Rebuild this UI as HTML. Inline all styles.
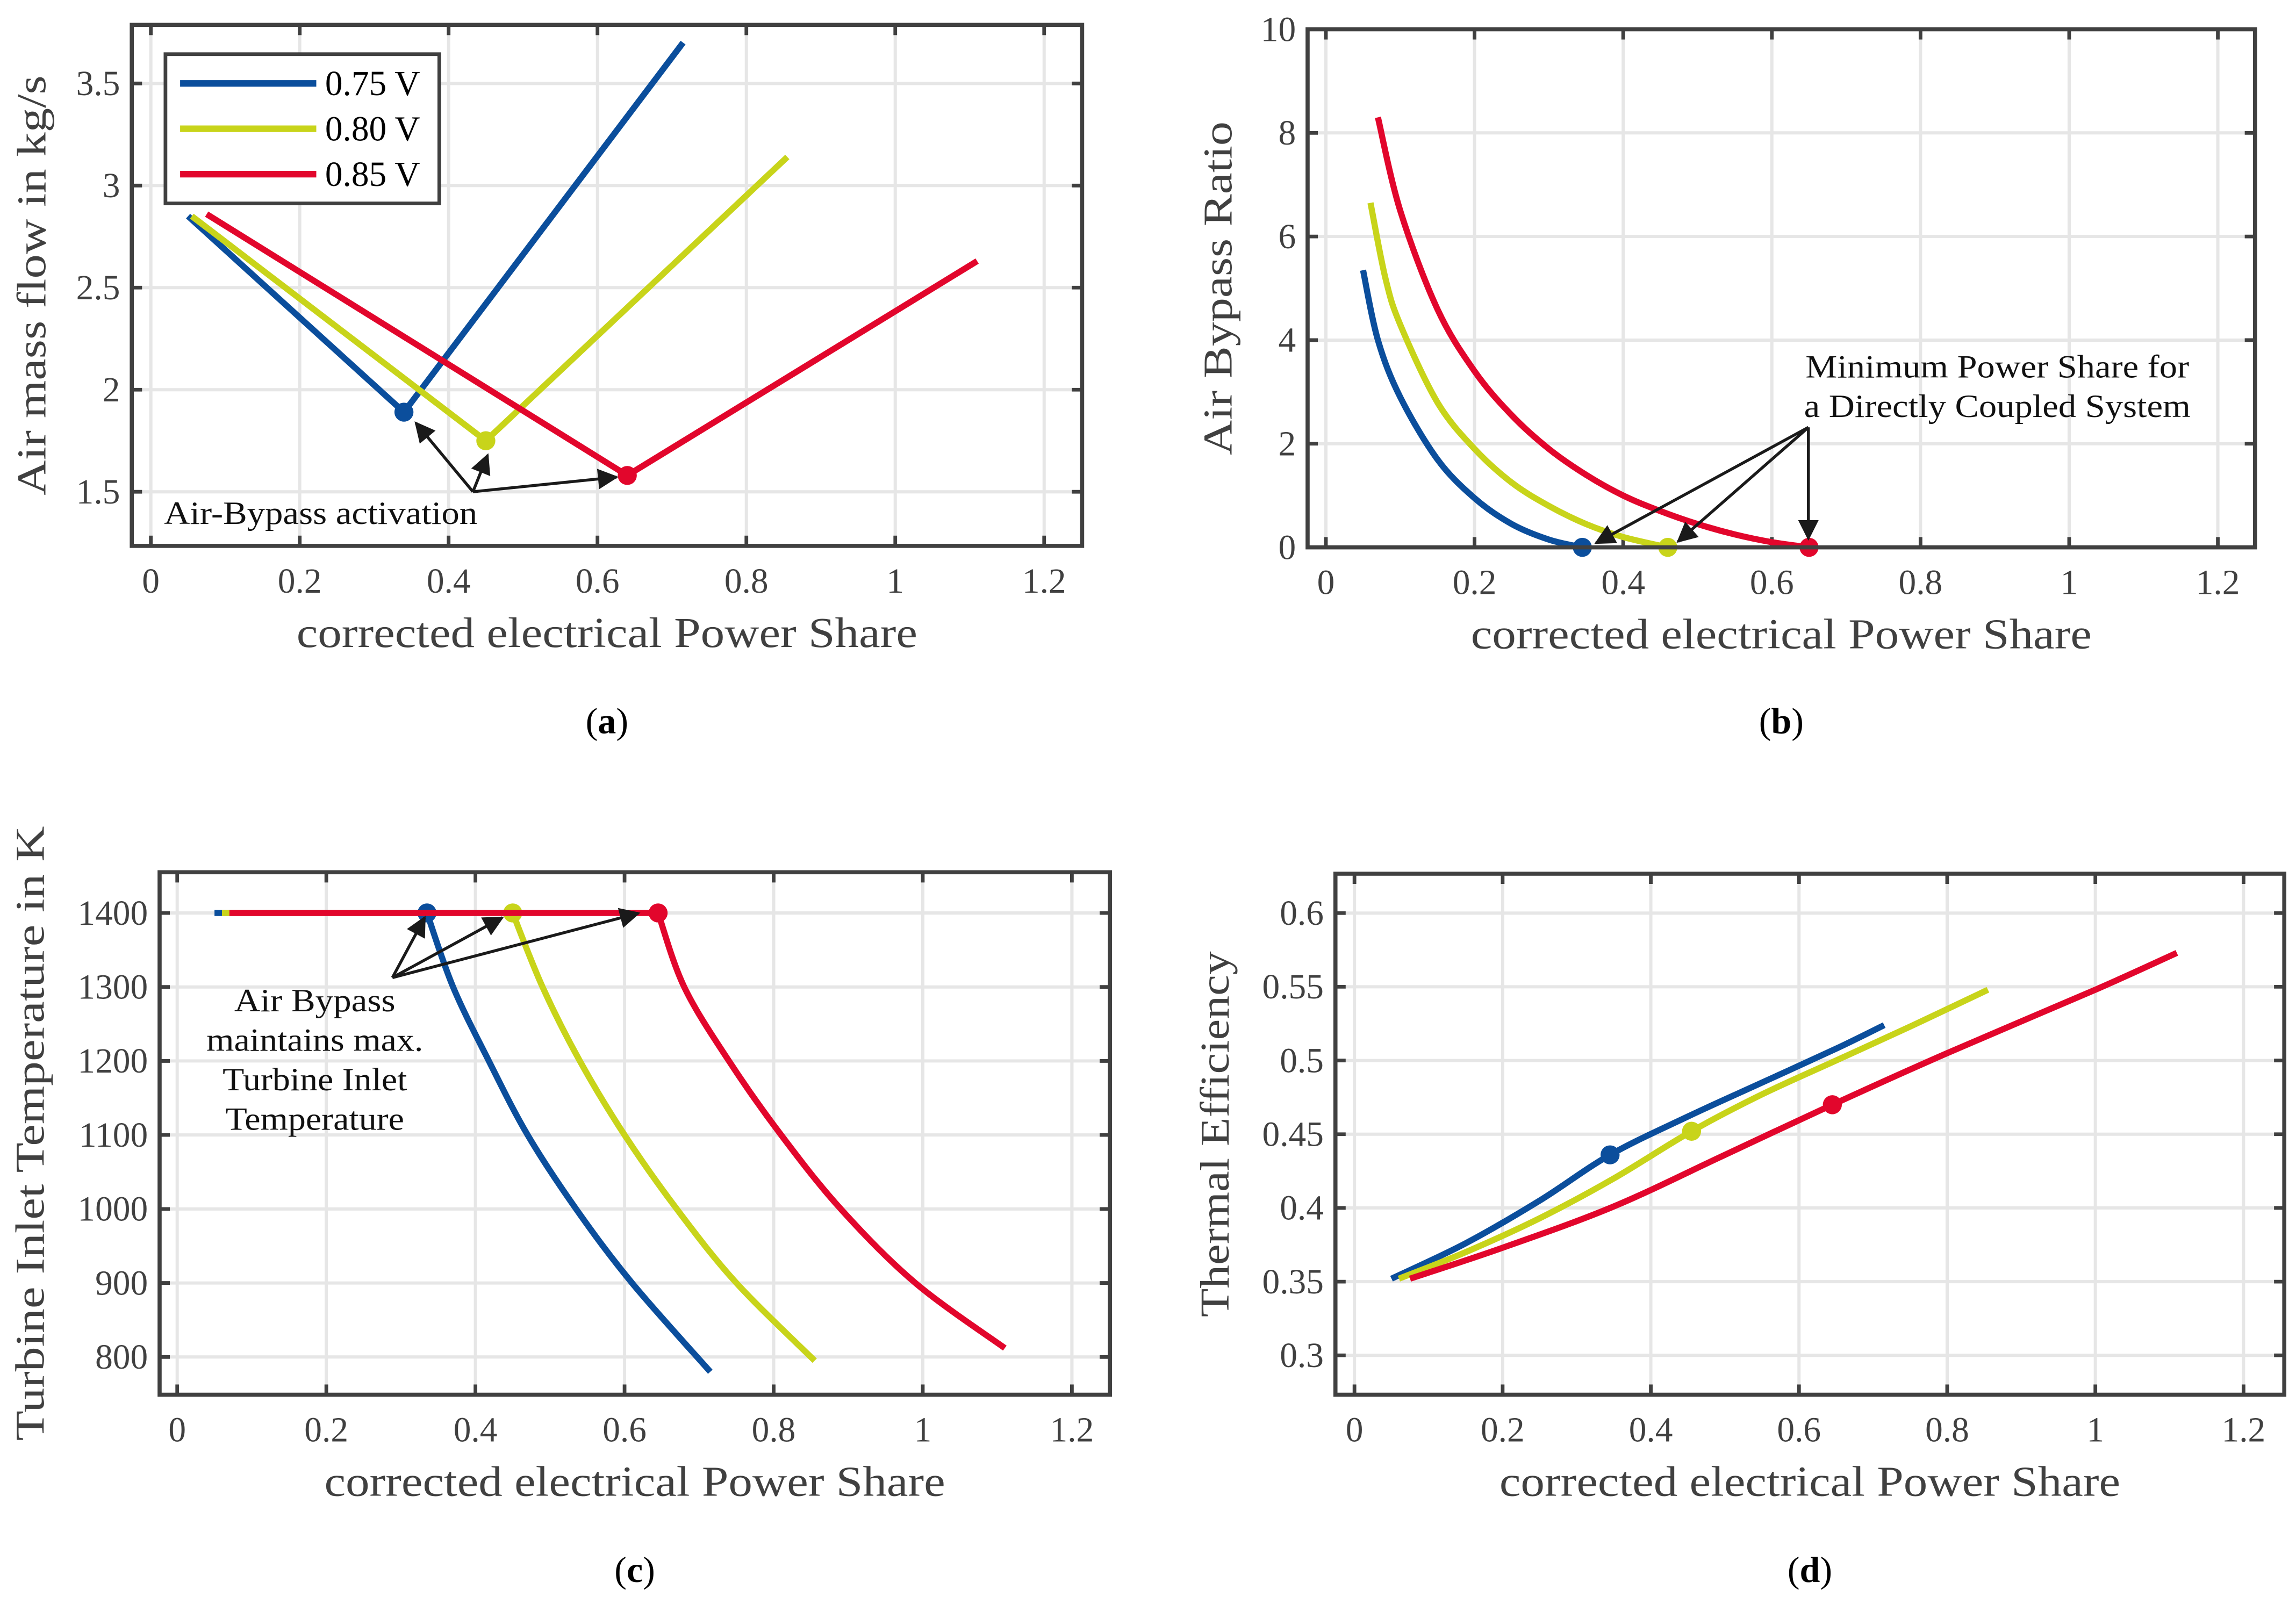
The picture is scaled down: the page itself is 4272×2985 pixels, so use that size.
<!DOCTYPE html>
<html><head><meta charset="utf-8"><style>
html,body{margin:0;padding:0;background:#fff}
svg{display:block}
text{font-family:"Liberation Serif",serif;fill:#404040}
</style></head><body>
<svg id="fig" xmlns="http://www.w3.org/2000/svg" width="4272" height="2985" viewBox="0 0 1568 1096" preserveAspectRatio="none">
<defs>
<marker id="ah2" viewBox="0 0 10 10" refX="9" refY="5" markerWidth="16" markerHeight="14" orient="auto" markerUnits="userSpaceOnUse"><path d="M0,0 L10,5 L0,10 z" fill="#1a1a1a"/></marker></defs>
</svg>
<script>
// ---- data ----
const seriesNames = ['0.75 V','0.80 V','0.85 V'];
const colors = ['#0B4E9C','#C8D41A','#E2062C'];
// (a) air mass flow
const aX = [[0.05,0.34,0.715],[0.055,0.45,0.855],[0.075,0.64,1.11]];
const aY = [[2.85,1.89,3.70],[2.85,1.75,3.14],[2.86,1.58,2.63]];
const aMark = [1,1,1];
// (b) bypass ratio
const bX = [[0.05,0.07,0.1,0.15,0.2,0.25,0.3,0.345],
            [0.06,0.08,0.1,0.15,0.2,0.25,0.3,0.35,0.4,0.46],
            [0.07,0.1,0.15,0.2,0.25,0.3,0.35,0.4,0.45,0.5,0.55,0.6,0.65]];
const bY = [[5.35,4.0,2.9,1.7,0.95,0.45,0.15,0],
            [6.65,5.2,4.3,2.8,1.9,1.25,0.8,0.45,0.2,0],
            [8.3,6.5,4.6,3.4,2.55,1.9,1.4,1.0,0.7,0.45,0.25,0.1,0]];
// (c) turbine inlet temperature (flat part then curve)
const cFlatStart = [0.05,0.06,0.07];
const cX = [[0.335,0.37,0.418,0.47,0.535,0.61,0.715],
            [0.45,0.49,0.54,0.6,0.67,0.75,0.855],
            [0.645,0.68,0.74,0.81,0.89,0.99,1.11]];
const cY = [[1400,1300,1200,1100,1000,900,780],
            [1400,1300,1200,1100,1000,900,795],
            [1400,1300,1200,1100,1000,900,812]];
// (d) thermal efficiency
const dX = [[0.05,0.15,0.25,0.345,0.45,0.55,0.65,0.715],
            [0.06,0.15,0.25,0.35,0.455,0.55,0.65,0.75,0.855],
            [0.075,0.2,0.35,0.5,0.645,0.8,1.0,1.11]];
const dY = [[0.352,0.376,0.405,0.436,0.462,0.485,0.508,0.524],
            [0.352,0.37,0.393,0.42,0.452,0.477,0.5,0.523,0.548],
            [0.352,0.373,0.401,0.436,0.47,0.505,0.548,0.573]];
const xTicks = [0,0.2,0.4,0.6,0.8,1,1.2];
const xTickLabels = ['0','0.2','0.4','0.6','0.8','1','1.2'];
const aYTicks = [1.5,2,2.5,3,3.5]; const aYLabels=['1.5','2','2.5','3','3.5'];
const bYTicks = [0,2,4,6,8,10]; const bYLabels=['0','2','4','6','8','10'];
const cYTicks = [800,900,1000,1100,1200,1300,1400]; const cYLabels=['800','900','1000','1100','1200','1300','1400'];
const dYTicks = [0.3,0.35,0.4,0.45,0.5,0.55,0.6]; const dYLabels=['0.3','0.35','0.4','0.45','0.5','0.55','0.6'];

const NS='http://www.w3.org/2000/svg';
const svg=document.getElementById('fig');
function el(tag,attrs,parent,txt){const e=document.createElementNS(NS,tag);for(const k in attrs)e.setAttribute(k,attrs[k]);if(txt!==undefined)e.textContent=txt;(parent||svg).appendChild(e);return e;}

function smoothPath(pts){
  if(pts.length<3) return pts.map((p,i)=>(i?'L':'M')+p[0].toFixed(2)+','+p[1].toFixed(2)).join(' ');
  let d='M'+pts[0][0].toFixed(2)+','+pts[0][1].toFixed(2);
  for(let i=0;i<pts.length-1;i++){
    const p0=pts[Math.max(0,i-1)],p1=pts[i],p2=pts[i+1],p3=pts[Math.min(pts.length-1,i+2)];
    const c1=[p1[0]+(p2[0]-p0[0])/6,p1[1]+(p2[1]-p0[1])/6];
    const c2=[p2[0]-(p3[0]-p1[0])/6,p2[1]-(p3[1]-p1[1])/6];
    d+=` C${c1[0].toFixed(2)},${c1[1].toFixed(2)} ${c2[0].toFixed(2)},${c2[1].toFixed(2)} ${p2[0].toFixed(2)},${p2[1].toFixed(2)}`;
  }
  return d;
}

function panel(cfg){
  const g=el('g',{});
  
  
  const {L,R,T,B,x0,x1,y0,y1}=cfg;
  const sx=v=>L+(v-x0)/(x1-x0)*(R-L);
  const sy=v=>B-(v-y0)/(y1-y0)*(B-T);
  xTicks.forEach(t=>{const l=el('line',{x1:sx(t),x2:sx(t),y1:T,y2:B,stroke:'#e6e6e6','stroke-width':2.2},g);
    });
  cfg.yt.forEach(t=>{const l=el('line',{x1:L,x2:R,y1:sy(t),y2:sy(t),stroke:'#e6e6e6','stroke-width':2.2},g);
    });
  xTicks.forEach((t,i)=>{
    el('line',{x1:sx(t),x2:sx(t),y1:B,y2:B-7,stroke:'#404040','stroke-width':2.5},g);
    el('line',{x1:sx(t),x2:sx(t),y1:T,y2:T+7,stroke:'#404040','stroke-width':2.5},g);
    const tx=el('text',{x:sx(t),y:B+32,'text-anchor':'middle','font-size':24},g,xTickLabels[i]);
    
  });
  cfg.yt.forEach((t,i)=>{
    el('line',{x1:L,x2:L+7,y1:sy(t),y2:sy(t),stroke:'#404040','stroke-width':2.5},g);
    el('line',{x1:R,x2:R-7,y1:sy(t),y2:sy(t),stroke:'#404040','stroke-width':2.5},g);
    const tx=el('text',{x:L-8,y:sy(t)+8,'text-anchor':'end','font-size':24},g,cfg.yl[i]);
    
  });
  cfg.X.forEach((xs,s)=>{
    const pts=xs.map((x,i)=>[sx(x),sy(cfg.Y[s][i])]);
    let d=cfg.smooth?smoothPath(pts):pts.map((p,i)=>(i?'L':'M')+p[0].toFixed(2)+','+p[1].toFixed(2)).join(' ');
    if(cfg.flat) d='M'+sx(cfg.flat[s]).toFixed(2)+','+pts[0][1].toFixed(2)+' L'+d.slice(1);
    const p=el('path',{d,fill:'none',stroke:colors[s],'stroke-width':4.2,'stroke-linejoin':'round'},g);
    
    
    const mi=cfg.mark[s];
    const c=el('circle',{cx:sx(xs[mi]),cy:sy(cfg.Y[s][mi]),r:6.5,fill:colors[s]},g);
    
    
  });
  const f=el('rect',{x:L,y:T,width:R-L,height:B-T,fill:'none',stroke:'#404040','stroke-width':2.8},g);
  
  const xl=el('text',{x:(L+R)/2,y:B+69,'text-anchor':'middle','font-size':29,textLength:424,lengthAdjust:'spacingAndGlyphs'},g,'corrected electrical Power Share');
  
  const yl=el('text',{x:0,y:0,'text-anchor':'middle','font-size':28,textLength:cfg.ylen,lengthAdjust:'spacingAndGlyphs',transform:`translate(${cfg.ylx},${(T+B)/2}) rotate(-90)`},g,cfg.ylabel);
  
  const cap=el('text',{x:(L+R)/2,y:cfg.capY,'text-anchor':'middle','font-size':25},g);
  
  cap.innerHTML='(<tspan font-weight="bold">'+cfg.cap+'</tspan>)';
  cap.style.fill='#000';
  return {g,sx,sy};
}
panel({name:'panel-a-air-mass-flow',L:90,R:739,T:17,B:373,x0:-0.0256,x1:1.251,y0:1.235,y1:3.787,yt:aYTicks,yl:aYLabels,X:aX,Y:aY,mark:aMark,ylabel:'Air mass flow in kg/s',ylx:31,ylen:287,cap:'a',capY:501});
panel({name:'panel-b-bypass-ratio',L:893,R:1540,T:20,B:374,x0:-0.0246,x1:1.25,y0:0,y1:10,yt:bYTicks,yl:bYLabels,X:bX,Y:bY,mark:bX.map(a=>a.length-1),ylabel:'Air Bypass Ratio',ylx:841,ylen:228,smooth:true,cap:'b',capY:501});
panel({name:'panel-c-turbine-inlet-temp',L:109,R:758,T:596,B:953,x0:-0.0236,x1:1.251,y0:749,y1:1455,yt:cYTicks,yl:cYLabels,X:cX,Y:cY,mark:[0,0,0],flat:cFlatStart,smooth:true,ylabel:'Turbine Inlet Temperature in K',ylx:30,ylen:420,cap:'c',capY:1081});
panel({name:'panel-d-thermal-efficiency',L:912,R:1560,T:597,B:953,x0:-0.0257,x1:1.255,y0:0.2733,y1:0.6267,yt:dYTicks,yl:dYLabels,X:dX,Y:dY,mark:[3,4,4],smooth:true,ylabel:'Thermal Efficiency',ylx:839,ylen:250,cap:'d',capY:1081});

// legend in (a)
const lg=el('g',{});


el('rect',{x:113,y:37,width:187,height:102,fill:'#fff',stroke:'#404040','stroke-width':2.5},lg);
seriesNames.forEach((n,i)=>{
  const y=57+i*31;
  const ln=el('line',{x1:123,x2:216,y1:y,y2:y,stroke:colors[i],'stroke-width':4.5},lg);
  
  
  const t=el('text',{x:222,y:y+8,'font-size':24},lg,n);
  t.style.fill='#000';
  
  
});

function arrow(x1,y1,x2,y2){const l=el('line',{x1,y1,x2,y2,stroke:'#1a1a1a','stroke-width':2,'marker-end':'url(#ah2)'});
  }
function note(x,y,txt,anchor,len){const a={x,y,'font-size':22,'text-anchor':anchor||'start'};
  if(len){a.textLength=len;a.lengthAdjust='spacingAndGlyphs';}
  const t=el('text',a,svg,txt);t.style.fill='#111';
  }
note(112,358,'Air-Bypass activation','start',214);
arrow(323,336,284,289);arrow(323,336,333,311);arrow(323,336,421,326);
note(1364,258,'Minimum Power Share for','middle',262);
note(1364,285,'a Directly Coupled System','middle',264);
arrow(1235,292,1090,371);arrow(1235,292,1146,370);arrow(1235,292,1235,368);
note(215,691,'Air Bypass','middle',110);note(215,718,'maintains max.','middle',148);
note(215,745,'Turbine Inlet','middle',126);note(215,772,'Temperature','middle',122);
arrow(268,668,290,627);arrow(268,668,343,627);arrow(268,668,436,624);
</script>
</body></html>
